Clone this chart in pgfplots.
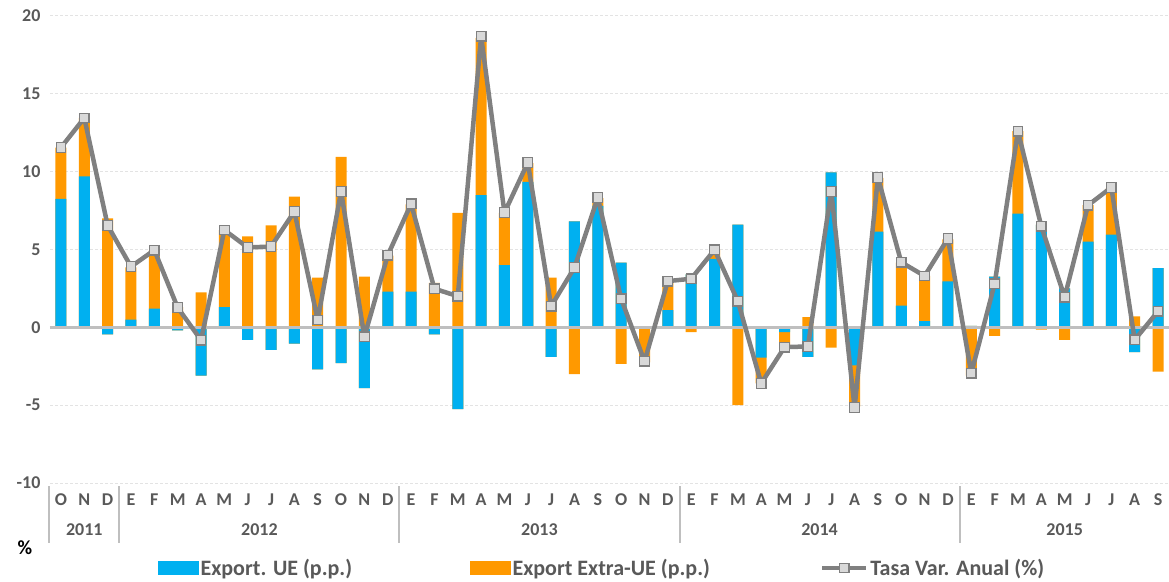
\documentclass[border=0pt]{standalone}
\usepackage{pgfplots}
\pgfplotsset{compat=1.18}
\usepackage{pgfplotstable}
\usepackage{fontspec}
\setmainfont{Carlito}
\definecolor{ueblue}{HTML}{00B0F0}
\definecolor{extraorange}{HTML}{FF9900}
\definecolor{linegray}{HTML}{808080}
\definecolor{markfill}{HTML}{D9D9D9}
\definecolor{txtgray}{HTML}{595959}
\definecolor{gridgray}{HTML}{E3E3E3}
\definecolor{zerogray}{HTML}{BFBFBF}
\pgfplotsset{mylinelegend/.style={legend image code/.code={\draw[mark repeat=2, mark phase=2, ##1] plot coordinates {(0pt,0pt) (22pt,0pt) (44pt,0pt)};}}}

\pgfplotstableread{
idx blue orange total
0 8.25 3.3 11.55
1 9.7 3.75 13.45
2 -0.45 7.0 6.55
3 0.5 3.35 3.9
4 1.2 3.75 4.96
5 -0.2 1.3 1.27
6 -3.1 2.25 -0.82
7 1.3 4.95 6.25
8 -0.8 5.85 5.13
9 -1.45 6.55 5.19
10 -1.05 8.4 7.44
11 -2.7 3.2 0.47
12 -2.3 10.95 8.73
13 -3.9 3.25 -0.6
14 2.3 2.3 4.63
15 2.3 5.6 7.93
16 -0.45 2.85 2.48
17 -5.25 7.35 2.0
18 8.5 10.1 18.7
19 4.0 3.35 7.37
20 9.35 1.2 10.58
21 -1.9 3.2 1.36
22 6.8 -3.0 3.84
23 7.8 0.5 8.34
24 4.15 -2.35 1.83
25 0.05 -2.25 -2.18
26 1.1 1.9 2.97
27 3.4 -0.3 3.12
28 4.4 0.6 4.98
29 6.6 -5.0 1.68
30 -1.95 -1.65 -3.6
31 -0.3 -0.95 -1.27
32 -1.9 0.65 -1.23
33 9.95 -1.3 8.73
34 -2.45 -2.65 -5.15
35 6.15 3.45 9.63
36 1.4 2.75 4.18
37 0.4 2.9 3.3
38 2.95 2.7 5.71
39 0.1 -3.1 -2.95
40 3.25 -0.55 2.8
41 7.3 5.3 12.59
42 6.6 -0.15 6.49
43 2.5 -0.8 1.94
44 5.5 2.35 7.84
45 5.95 3.0 8.99
46 -1.6 0.7 -0.8
47 3.8 -2.85 1.03
}\data

\begin{document}
\begin{tikzpicture}[font=\fontsize{18}{20}\selectfont\bfseries]
\begin{axis}[name=ax, scale only axis, width=1119pt, height=467pt,
  xmin=-0.47, xmax=47.47, ymin=-10, ymax=20,
  ybar, bar width=11pt, bar shift=0pt,
  axis line style={draw=none},
  ytick={-10,-5,0,5,10,15,20}, yticklabels={-10,-5,0,5,10,15,20},
  ymajorgrids, grid style={dash pattern=on 3pt off 2pt, gridgray, line width=1pt},
  major tick length=0pt,
  xtick={0,...,47},
  xticklabels={O,N,D,E,F,M,A,M,J,J,A,S,O,N,D,E,F,M,A,M,J,J,A,S,O,N,D,E,F,M,A,M,J,J,A,S,O,N,D,E,F,M,A,M,J,J,A,S},
  tick label style={text=txtgray, font=\fontsize{18}{20}\selectfont\bfseries},
  yticklabel style={xshift=-6pt},
  xticklabel style={yshift=-7pt},
  clip=false,
  legend columns=3,
  legend style={at={(axis description cs:0.0965,-0.182)}, anchor=west, draw=none, fill=none,
    inner sep=0pt, font=\fontsize{22}{24}\selectfont\bfseries, text=txtgray,
    /tikz/every even column/.append style={column sep=108pt},
    nodes={inner sep=2pt}},
]
\addlegendimage{legend image code/.code={\fill[ueblue] (0pt,-6.5pt) rectangle (40pt,6.5pt);}}
\addlegendentry{Export. UE (p.p.)\hspace*{8pt}\mbox{}}
\addlegendimage{legend image code/.code={\fill[extraorange] (0pt,-6.5pt) rectangle (40pt,6.5pt);}}
\addlegendentry{Export Extra-UE (p.p.)}

\addplot[fill=extraorange, draw=none, forget plot] table[x=idx, y expr={max(\thisrow{blue},0)+max(\thisrow{orange},0)}]{\data};
\addplot[fill=extraorange, draw=none, forget plot] table[x=idx, y expr={min(\thisrow{blue},0)+min(\thisrow{orange},0)}]{\data};
\addplot[fill=ueblue, draw=none, forget plot] table[x=idx, y expr={max(\thisrow{blue},0)}]{\data};
\addplot[fill=ueblue, draw=none, forget plot] table[x=idx, y expr={min(\thisrow{blue},0)}]{\data};

\draw[zerogray, line width=3pt] (axis cs:-0.47,0) -- (axis cs:47.47,0);

\addplot[sharp plot, linegray, line width=4.5pt, line join=round, mark=square*, mark size=4.8pt,
  mark options={fill=markfill, draw=linegray, line width=1.3pt, solid, line join=miter}, mylinelegend]
  table[x=idx, y=total]{\data};
\addlegendentry{Tasa Var. Anual (\%)}

\node[text=txtgray] at (axis cs:1,-10) [yshift=-47pt] {2011};
\node[text=txtgray] at (axis cs:8.5,-10) [yshift=-47pt] {2012};
\node[text=txtgray] at (axis cs:20.5,-10) [yshift=-47pt] {2013};
\node[text=txtgray] at (axis cs:32.5,-10) [yshift=-47pt] {2014};
\node[text=txtgray] at (axis cs:43,-10) [yshift=-47pt] {2015};
\draw[zerogray, line width=2pt] ([yshift=-3pt]axis cs:-0.5,-10) -- ([yshift=-60pt]axis cs:-0.5,-10);
\draw[zerogray, line width=2pt] ([yshift=-3pt]axis cs:2.5,-10) -- ([yshift=-60pt]axis cs:2.5,-10);
\draw[zerogray, line width=2pt] ([yshift=-3pt]axis cs:14.5,-10) -- ([yshift=-60pt]axis cs:14.5,-10);
\draw[zerogray, line width=2pt] ([yshift=-3pt]axis cs:26.5,-10) -- ([yshift=-60pt]axis cs:26.5,-10);
\draw[zerogray, line width=2pt] ([yshift=-3pt]axis cs:38.5,-10) -- ([yshift=-60pt]axis cs:38.5,-10);
\node[text=black, font=\fontsize{20}{22}\selectfont\bfseries] at (axis description cs:0,0) [xshift=-25pt, yshift=-65pt] {\%};
\end{axis}
\pgfresetboundingbox
\path (ax.south west) ++(-50pt,-98pt) rectangle ++(1169pt,581pt);
\end{tikzpicture}
\end{document}
